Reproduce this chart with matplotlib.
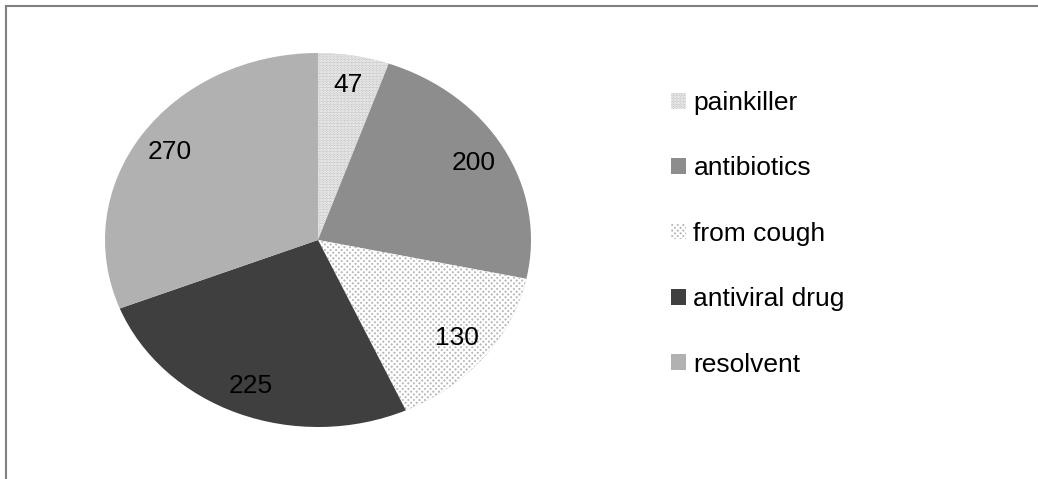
import matplotlib
matplotlib.use('agg')
from matplotlib import pyplot as plt
from matplotlib.lines import Line2D

plt.rcParams['font.family'] = ['Liberation Sans', 'DejaVu Sans']
plt.rcParams['hatch.linewidth'] = 1.4

# chart data
categories = ['painkiller', 'antibiotics', 'from cough', 'antiviral drug', 'resolvent']
values = [47, 200, 130, 225, 270]

colors = ['#bdbdbd', '#8d8d8d', '#b8b8b8', '#3f3f3f', '#b1b1b1']
hatches = ['......', None, 'xxxxxx', None, None]

W, H = 1038, 479
fig = plt.figure(figsize=(W / 100, H / 100), dpi=100)

# elliptical pie: axes box is exactly the ellipse bounding box
ax = fig.add_axes([105 / W, 1 - 427 / H, 426 / W, 374 / H])
total = sum(values)
wedges, texts, autotexts = ax.pie(
    values, colors=colors, startangle=90, counterclock=False,
    autopct=lambda p: '%d' % round(p * total / 100), pctdistance=0.84,
    wedgeprops=dict(linewidth=0, edgecolor='white'),
    textprops=dict(fontsize=19, color='black'))
for w, h in zip(wedges, hatches):
    if h:
        w.set_hatch(h)
ax.set_aspect('auto')
ax.set_xlim(-1, 1)
ax.set_ylim(-1, 1)

leg = fig.legend(wedges, categories, loc='upper left',
                 bbox_to_anchor=(671 / W, 1 - 91 / H), frameon=False,
                 fontsize=19, labelspacing=1.57, handlelength=0.55,
                 handleheight=0.55, handletextpad=0.3, borderpad=0,
                 borderaxespad=0)

# outer frame (top and left edges only)
fig.add_artist(Line2D([6 / W, 1], [1 - 6 / H, 1 - 6 / H], color='#808080', lw=1.5))
fig.add_artist(Line2D([6 / W, 6 / W], [0, 1 - 6 / H], color='#808080', lw=1.5))

fig.savefig('out.png', dpi=100)
